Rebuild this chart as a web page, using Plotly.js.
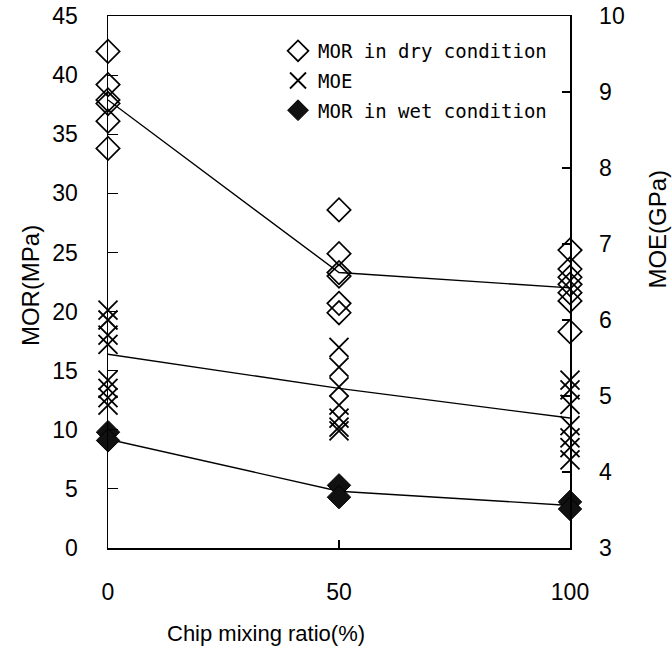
<!DOCTYPE html>
<html>
<head>
<meta charset="utf-8">
<script src="https://cdn.plot.ly/plotly-3.0.1.min.js"></script>
<style>html,body{margin:0;padding:0;background:#fff;}#chart{width:672px;height:652px;}</style>
</head>
<body>
<div id="chart"></div>
<script>
// Chip mixing ratio (%)
const mixRatios = [0, 50, 100];
const xTickLabels = ["0", "50", "100"];

// MOR in dry condition (MPa), individual specimens per mixing ratio
const morDry0 = [42.0, 39.2, 37.9, 37.6, 36.1, 33.8];
const morDry50 = [28.6, 24.9, 23.3, 23.0, 20.7, 19.9];
const morDry100 = [25.2, 23.6, 22.9, 22.3, 21.6, 20.9, 18.3];
const morDryMean = [37.9, 23.3, 22.0];

// MOE (GPa)
const moe0 = [6.13, 6.0, 5.8, 5.68, 5.21, 5.1, 4.98, 4.88];
const moe50 = [5.64, 5.38, 5.12, 4.88, 4.71, 4.59, 4.54];
const moe100 = [5.21, 5.08, 4.89, 4.61, 4.45, 4.32, 4.16];
const moeMean = [5.55, 5.1, 4.71];

// MOR in wet condition (MPa)
const morWet0 = [9.8, 9.1];
const morWet50 = [5.3, 4.3];
const morWet100 = [3.9, 3.3];
const morWetMean = [9.2, 4.8, 3.6];

function xs(groups) {
  const out = [];
  groups.forEach((g, i) => g.forEach(() => out.push(mixRatios[i])));
  return out;
}
function ys(groups) { return [].concat(...groups); }

const dryGroups = [morDry0, morDry50, morDry100];
const moeGroups = [moe0, moe50, moe100];
const wetGroups = [morWet0, morWet50, morWet100];

const lineStyle = {color: '#000', width: 1.4};

const traces = [
  {x: mixRatios, y: morDryMean, mode: 'lines', line: lineStyle, showlegend: false, yaxis: 'y', cliponaxis: false, hoverinfo: 'skip'},
  {x: mixRatios, y: moeMean, mode: 'lines', line: lineStyle, showlegend: false, yaxis: 'y2', cliponaxis: false, hoverinfo: 'skip'},
  {x: mixRatios, y: morWetMean, mode: 'lines', line: lineStyle, showlegend: false, yaxis: 'y', cliponaxis: false, hoverinfo: 'skip'},
  {x: xs(dryGroups), y: ys(dryGroups), mode: 'markers', name: 'MOR in dry condition', legendgroup: 'a', yaxis: 'y', cliponaxis: false,
   marker: {symbol: 'diamond-open', size: 18, color: '#000', line: {color: '#000', width: 1.7}}},
  {x: xs(moeGroups), y: ys(moeGroups), mode: 'markers', name: 'MOE', legendgroup: 'b', yaxis: 'y2', cliponaxis: false,
   marker: {symbol: 'x-thin-open', size: 19, color: '#000', line: {color: '#000', width: 1.8}}},
  {x: xs(wetGroups), y: ys(wetGroups), mode: 'markers', name: 'MOR in wet condition', legendgroup: 'c', yaxis: 'y', cliponaxis: false,
   marker: {symbol: 'diamond', size: 18, color: '#111', line: {color: '#000', width: 1}}}
];

const tickFont = {family: 'Liberation Sans, Arial, sans-serif', size: 23, color: '#000'};
const titleFont = {family: 'Liberation Sans, Arial, sans-serif', size: 24, color: '#000'};

const layout = {
  width: 672, height: 652,
  margin: {l: 108, r: 102, t: 16, b: 104, pad: 0},
  paper_bgcolor: '#fff', plot_bgcolor: '#fff',
  showlegend: true,
  legend: {
    x: 0.368, y: 0.97, xanchor: 'left', yanchor: 'top',
    bgcolor: 'rgba(0,0,0,0)', borderwidth: 0,
    font: {family: 'DejaVu Sans Mono, Liberation Mono, monospace', size: 19, color: '#000'},
    traceorder: 'grouped', tracegroupgap: 2
  },
  xaxis: {
    range: [0, 100], tickvals: mixRatios, ticktext: xTickLabels,
    showline: true, linecolor: '#000', linewidth: 1.5, mirror: true,
    ticks: 'inside', ticklen: 8, tickwidth: 1.2, tickcolor: '#000',
    showgrid: false, zeroline: false, tickfont: tickFont, ticklabelstandoff: 23
  },
  yaxis: {
    range: [0, 45], dtick: 5, tick0: 0,
    showline: true, linecolor: '#000', linewidth: 1.5,
    ticks: 'inside', ticklen: 10, tickwidth: 1.2, tickcolor: '#000',
    showgrid: false, zeroline: false, tickfont: tickFont, ticklabelstandoff: 24
  },
  yaxis2: {
    range: [3, 10], dtick: 1, tick0: 3, overlaying: 'y', side: 'right',
    showline: true, linecolor: '#000', linewidth: 1.5,
    ticks: 'inside', ticklen: 8, tickwidth: 1.2, tickcolor: '#000',
    showgrid: false, zeroline: false, tickfont: tickFont, ticklabelstandoff: 23
  },
  annotations: [
    {text: 'Chip mixing ratio(%)', xref: 'paper', yref: 'paper', x: 0.342, y: -0.16,
     xanchor: 'center', yanchor: 'middle', showarrow: false, font: {family: 'Liberation Sans, Arial, sans-serif', size: 22, color: '#000'}},
    {text: 'MOR(MPa)', xref: 'paper', yref: 'paper', x: -0.169, y: 0.494, textangle: -90,
     xanchor: 'center', yanchor: 'middle', showarrow: false, font: titleFont},
    {text: 'MOE(GPa)', xref: 'paper', yref: 'paper', x: 1.19, y: 0.6, textangle: -90,
     xanchor: 'center', yanchor: 'middle', showarrow: false, font: titleFont}
  ]
};

Plotly.newPlot('chart', traces, layout, {displayModeBar: false, staticPlot: true});
</script>
</body>
</html>
